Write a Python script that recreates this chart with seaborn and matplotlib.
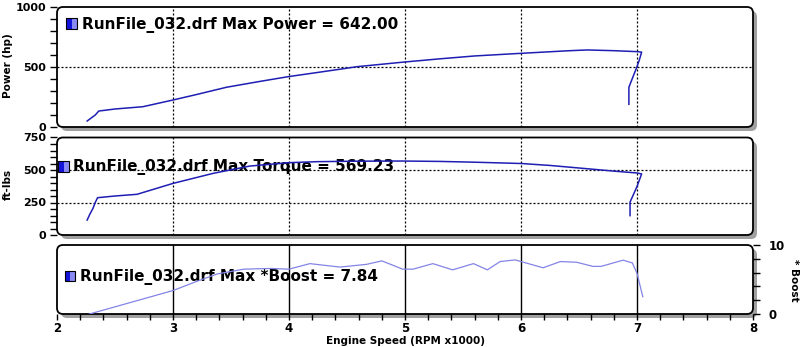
import numpy as np
import pandas as pd
import seaborn as sns
import matplotlib
matplotlib.use("Agg")
import matplotlib.pyplot as plt
from matplotlib.patches import FancyBboxPatch, Rectangle
from matplotlib.transforms import IdentityTransform

# ---------------- data ----------------
rpm_power = [2.26, 2.31, 2.33, 2.36, 2.5, 2.74, 3.0, 3.2, 3.46, 3.75, 3.99, 4.3, 4.59, 5.0,
             5.3, 5.6, 6.0, 6.25, 6.4, 6.57, 6.8, 7.0, 7.04, 7.02, 7.0, 6.93, 6.93]
power_hp = [50, 86, 100, 133, 150, 169, 225, 270, 331, 380, 419, 462, 503, 542,
            568, 592, 614, 627, 635, 642, 636, 628, 624, 558, 503, 331, 189]

rpm_torque = [2.26, 2.28, 2.31, 2.33, 2.35, 2.5, 2.69, 3.0, 3.35, 3.66, 3.99, 4.24, 4.6, 4.98,
              5.3, 5.6, 6.0, 6.25, 6.53, 6.82, 7.0, 7.04, 7.0, 6.94, 6.94]
torque_ftlb = [115, 154, 205, 251, 287, 300, 313, 397, 475, 530, 556, 564, 568, 569,
               566, 560, 550, 535, 513, 490, 477, 470, 373, 253, 149]

rpm_boost = [2.28, 3.0, 3.2, 3.38, 3.61, 3.84, 4.0, 4.18, 4.44, 4.67, 4.8, 4.98, 5.07, 5.24,
             5.41, 5.59, 5.71, 5.82, 5.95, 6.0, 6.19, 6.34, 6.48, 6.62, 6.69, 6.88, 6.96, 7.0, 7.05]
boost = [0, 3.4, 4.7, 5.8, 6.5, 6.6, 6.5, 7.3, 6.8, 7.2, 7.7, 6.5, 6.5, 7.3,
         6.4, 7.3, 6.4, 7.6, 7.84, 7.6, 6.7, 7.6, 7.5, 6.9, 6.9, 7.8, 7.4, 5.9, 2.5]

x_ticks = [2, 3, 4, 5, 6, 7, 8]
grid_x = [3, 4, 5, 6, 7]
power_ticks = [0, 500, 1000]
torque_ticks = [0, 250, 500, 750]
boost_ticks = [0, 10]

legend_power = "RunFile_032.drf Max Power = 642.00"
legend_torque = "RunFile_032.drf Max Torque = 569.23"
legend_boost = "RunFile_032.drf Max *Boost = 7.84"

# ---------------- style ----------------
plt.rcParams['font.family'] = ['DejaVu Sans']
plt.rcParams['font.weight'] = 'bold'

W, H = 800, 347
fig = plt.figure(figsize=(W / 100, H / 100), dpi=100)
fig.patch.set_facecolor('white')


def add_panel(x0, y0, x1, y1):
    ax = fig.add_axes([x0 / W, 1 - y1 / H, (x1 - x0) / W, (y1 - y0) / H])
    ax.set_facecolor('none')
    for s in ax.spines.values():
        s.set_visible(False)
    # shadow + rounded frame in pixel space
    sh = FancyBboxPatch((x0 + 4, H - y1 - 4), x1 - x0, y1 - y0,
                        boxstyle="round,pad=0,rounding_size=6",
                        fc='#a0a0a0', ec='none', transform=IdentityTransform(), zorder=-3)
    fr = FancyBboxPatch((x0, H - y1), x1 - x0, y1 - y0,
                        boxstyle="round,pad=0,rounding_size=6",
                        fc='white', ec='black', lw=1.3, transform=IdentityTransform(), zorder=-2)
    fig.add_artist(sh)
    fig.add_artist(fr)
    return ax


def icon(x0, y0, size=11):
    # legend icon: blue square with lighter right half
    b = H - y0 - size
    fig.add_artist(Rectangle((x0, b), size * 0.5, size, fc='#1414d8', ec='none',
                             transform=IdentityTransform(), zorder=5))
    fig.add_artist(Rectangle((x0 + size * 0.5, b), size * 0.5, size, fc='#8a8af4', ec='none',
                             transform=IdentityTransform(), zorder=5))
    fig.add_artist(Rectangle((x0, b), size, size, fc='none', ec='black', lw=0.8,
                             transform=IdentityTransform(), zorder=6))


def ax_text(ax, px, py, s, size):
    bb = ax.get_position()
    xa = (px / W - bb.x0) / bb.width
    ya = ((1 - py / H) - bb.y0) / bb.height
    ax.text(xa, ya, s, transform=ax.transAxes, fontsize=size, fontweight='bold',
            va='center', ha='left', zorder=1, clip_on=False)


ax1 = add_panel(57, 7, 753, 127)
ax2 = add_panel(57, 137.5, 753, 235)
ax3 = add_panel(57, 245, 753, 314)

line_col = '#1e1eb4'
dash = (0, (1.6, 1.6))

# ---- Power ----
sns.lineplot(x=rpm_power, y=power_hp, sort=False, estimator=None, ax=ax1,
             color=line_col, lw=1.1, zorder=3)
ax1.set_xlim(2, 8)
ax1.set_ylim(0, 1000)
for gx in grid_x:
    ax1.axvline(gx, color='black', lw=0.9, ls=dash, zorder=2)
ax1.axhline(500, color='black', lw=0.9, ls=dash, zorder=2)
ax1.set_yticks(power_ticks)
ax1.set_yticks(np.arange(0, 1001, 100), minor=True)
ax1.tick_params(axis='y', which='both', direction='out', length=5, width=1, labelsize=8, pad=3,
                left=True)
ax1.tick_params(axis='x', which='both', length=0, labelbottom=False)
ax1.set_xlabel('')
ax1.set_ylabel('')

# ---- Torque ----
sns.lineplot(x=rpm_torque, y=torque_ftlb, sort=False, estimator=None, ax=ax2,
             color=line_col, lw=1.1, zorder=3)
ax2.set_xlim(2, 8)
ax2.set_ylim(0, 750)
for gx in grid_x:
    ax2.axvline(gx, color='black', lw=0.9, ls=dash, zorder=2)
for gy in [250, 500]:
    ax2.axhline(gy, color='black', lw=0.9, ls=dash, zorder=2)
ax2.set_yticks(torque_ticks)
ax2.set_yticks(np.arange(0, 751, 50), minor=True)
ax2.tick_params(axis='y', which='both', direction='out', length=5, width=1, labelsize=8, pad=3,
                left=True)
ax2.tick_params(axis='x', which='both', length=0, labelbottom=False)
ax2.set_xlabel('')
ax2.set_ylabel('')

# ---- Boost ----
sns.lineplot(x=rpm_boost, y=boost, sort=False, estimator=None, ax=ax3,
             color='#8484e6', lw=0.9, zorder=3)
ax3.set_xlim(2, 8)
ax3.set_ylim(0, 10)
for gx in grid_x:
    ax3.axvline(gx, color='black', lw=1.0, zorder=2)
ax3.yaxis.tick_right()
ax3.set_yticks(boost_ticks)
ax3.set_yticks([2, 4, 6, 8], minor=True)
ax3.tick_params(axis='y', which='both', direction='out', length=5, width=1, labelsize=8.5, pad=6,
                right=True, left=False, labelleft=False, labelright=True)
ax3.set_xticks(x_ticks)
ax3.set_xticks(np.arange(2, 8.01, 0.2), minor=True)
ax3.tick_params(axis='x', which='both', direction='out', length=4, width=1, labelsize=8.5, pad=2,
                bottom=True)
ax3.set_xlabel('')
ax3.set_ylabel('')
for lab in ax1.get_yticklabels() + ax2.get_yticklabels() + ax3.get_yticklabels() + ax3.get_xticklabels():
    lab.set_fontweight('bold')

# ---- legends / labels ----
icon(66, 18)
ax_text(ax1, 82, 25, legend_power, 11)
icon(58, 161)
ax_text(ax2, 73, 167, legend_torque, 11)
icon(65, 271, size=10)
ax_text(ax3, 80, 277, legend_boost, 11)

fig.text(8 / W, 1 - 66 / H, 'Power (hp)', rotation=90, ha='center', va='center',
         fontsize=7.5, fontweight='bold')
fig.text(8 / W, 1 - 184 / H, 'ft-lbs', rotation=90, ha='center', va='center',
         fontsize=7.5, fontweight='bold')
fig.text(794 / W, 1 - 280 / H, '* Boost', rotation=270, ha='center', va='center',
         fontsize=7.5, fontweight='bold')
fig.text(405 / W, 1 - 341 / H, 'Engine Speed (RPM x1000)', ha='center', va='center',
         fontsize=7.5, fontweight='bold')

fig.savefig('out.png', dpi=100, facecolor='white')
